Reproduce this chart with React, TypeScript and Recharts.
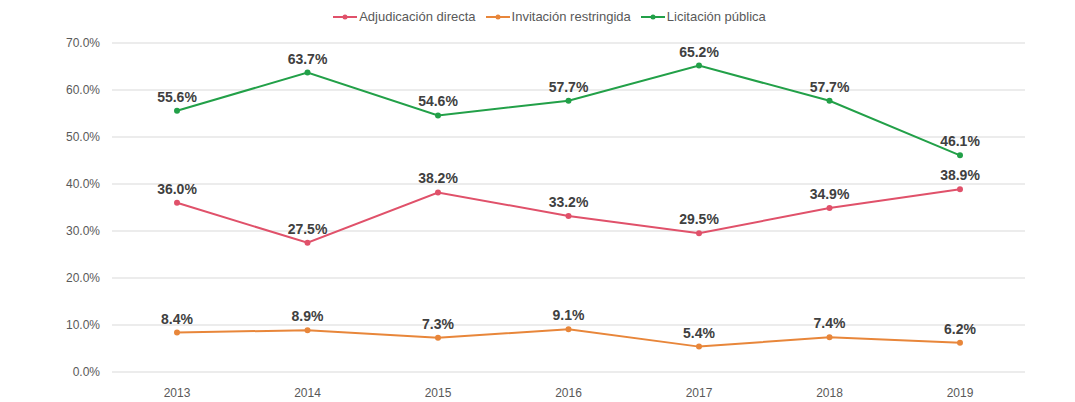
import React from "react";
import {
  LineChart,
  Line,
  XAxis,
  YAxis,
  CartesianGrid,
  Legend,
  LabelList,
} from "recharts";

const years = ["2013", "2014", "2015", "2016", "2017", "2018", "2019"];
const adjudicacion = [36.0, 27.5, 38.2, 33.2, 29.5, 34.9, 38.9];
const invitacion = [8.4, 8.9, 7.3, 9.1, 5.4, 7.4, 6.2];
const licitacion = [55.6, 63.7, 54.6, 57.7, 65.2, 57.7, 46.1];
const yTicks = [0, 10, 20, 30, 40, 50, 60, 70];

const seriesNames = {
  a: "Adjudicación directa",
  i: "Invitación restringida",
  l: "Licitación pública",
};
const colors = { a: "#e0516a", i: "#e8863a", l: "#22a048" };

const data = years.map((y, k) => ({
  year: y,
  a: adjudicacion[k],
  i: invitacion[k],
  l: licitacion[k],
}));

const FONT = "'Liberation Sans', Arial, sans-serif";
const fmt = (v: number) => `${v.toFixed(1)}%`;

const LegendContent = (props: any) => {
  const payload = props.payload || [];
  return (
    <div
      style={{
        display: "flex",
        justifyContent: "center",
        alignItems: "center",
        fontFamily: FONT,
        fontSize: 13,
        color: "#595959",
      }}
    >
      {payload.map((p: any) => (
        <div
          key={p.value}
          style={{ display: "flex", alignItems: "center", margin: "0 5px" }}
        >
          <svg width={24} height={10} style={{ marginRight: 2 }}>
            <line x1={0} y1={5} x2={24} y2={5} stroke={p.color} strokeWidth={2} />
            <circle cx={12} cy={5} r={2.5} fill={p.color} />
          </svg>
          <span>{p.value}</span>
        </div>
      ))}
    </div>
  );
};

export default function App() {
  return (
    <div
      style={{
        position: "absolute",
        left: 0,
        top: 0,
        width: 1075,
        height: 402,
        background: "#ffffff",
      }}
    >
      <LineChart
        width={1075}
        height={402}
        data={data}
        margin={{ top: 42, right: 50, bottom: 0, left: 0 }}
      >
        <CartesianGrid vertical={false} stroke="#d9d9d9" />
        <XAxis
          dataKey="year"
          axisLine={false}
          tickLine={false}
          padding={{ left: 65, right: 65 }}
          tick={{ fill: "#595959", fontSize: 12, fontFamily: FONT }}
          tickMargin={10}
          height={30}
        />
        <YAxis
          domain={[0, 70]}
          ticks={yTicks}
          tickFormatter={fmt}
          axisLine={false}
          tickLine={false}
          width={112}
          tickSize={0}
          tickMargin={12}
          tick={{ fill: "#595959", fontSize: 12, fontFamily: FONT }}
        />
        <Legend
          verticalAlign="top"
          height={1}
          wrapperStyle={{ top: 9, left: 12, width: 1075 }}
          content={<LegendContent />}
        />
        {(["a", "i", "l"] as const).map((k) => (
          <Line
            key={k}
            dataKey={k}
            name={seriesNames[k]}
            stroke={colors[k]}
            strokeWidth={2}
            dot={{ r: 3, fill: colors[k], stroke: colors[k], strokeWidth: 0 }}
            activeDot={false}
            isAnimationActive={false}
          >
            <LabelList
              dataKey={k}
              position="top"
              offset={9}
              formatter={(v: any) => fmt(Number(v))}
              style={{
                fill: "#404040",
                fontSize: 14,
                fontWeight: 700,
                fontFamily: FONT,
              }}
            />
          </Line>
        ))}
      </LineChart>
    </div>
  );
}
